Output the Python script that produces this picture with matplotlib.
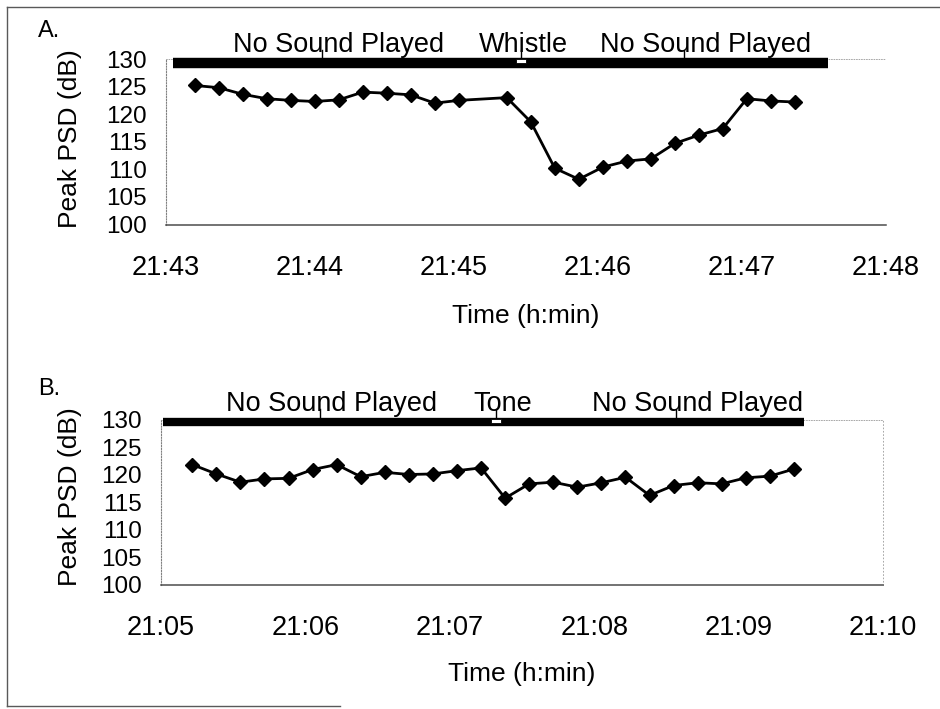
import matplotlib.pyplot as plt
from matplotlib.lines import Line2D

plt.rcParams['font.family'] = ['Liberation Sans', 'DejaVu Sans']

# panel A: peak PSD, seconds after 21:43:00
a_sec = [12, 22, 32, 42, 52, 62, 72, 82, 92, 102, 112, 122,
         142, 152, 162, 172, 182, 192, 202, 212, 222, 232, 242, 252, 262]
a_psd = [125.2, 124.8, 123.6, 122.8, 122.5, 122.3, 122.6, 124.0, 123.8, 123.5, 122.0, 122.5,
         123.0, 118.6, 110.2, 108.2, 110.4, 111.5, 111.9, 114.7, 116.2, 117.4, 122.8, 122.4, 122.2]
a_ticks = ['21:43', '21:44', '21:45', '21:46', '21:47', '21:48']

# panel B: peak PSD, seconds after 21:05:00
b_sec = [13, 23, 33, 43, 53, 63, 73, 83, 93, 103, 113, 123, 133,
         143, 153, 163, 173, 183, 193, 203, 213, 223, 233, 243, 253, 263]
b_psd = [121.8, 120.1, 118.6, 119.2, 119.3, 120.9, 121.8, 119.6, 120.4, 120.0, 120.1, 120.7, 121.2,
         115.7, 118.3, 118.6, 117.7, 118.5, 119.5, 116.2, 118.0, 118.5, 118.3, 119.4, 119.7, 121.0]
b_ticks = ['21:05', '21:06', '21:07', '21:08', '21:09', '21:10']

# playback timeline (seconds): recording span and sound event
a_span = [3, 276]
a_event = 148
b_span = [1, 267]
b_event = 139

a_notes = ['No Sound Played', 'Whistle', 'No Sound Played']
a_note_sec = [72, 149, 225]
a_point_sec = [65, 148, 216]
b_notes = ['No Sound Played', 'Tone', 'No Sound Played']
b_note_sec = [71, 142, 223]
b_point_sec = [66, 139, 214]

yticks = [100, 105, 110, 115, 120, 125, 130]

W, H = 940, 709
fig = plt.figure(figsize=(W / 100, H / 100), dpi=100)


def panel(rect, secs, psd, ticks, span, event, notes, note_sec, point_sec,
          bar_y, bar_lw, text_y, letter, letter_y, ylab_y, xlab_y, right_spine):
    ax = fig.add_axes(rect)
    mins = [s / 60 for s in secs]
    ax.plot(mins, psd, color='black', lw=2.0, marker='D', ms=7,
            mfc='black', mec='black', zorder=4)

    # stimulus bar across the top
    ax.plot([span[0] / 60, span[1] / 60], [bar_y, bar_y], color='black',
            lw=bar_lw, solid_capstyle='butt', zorder=3, clip_on=False)
    box = [(-1, -0.5), (1, -0.5), (1, 0.5), (-1, 0.5), (-1, -0.5)]
    ax.plot([event / 60], [bar_y + 0.3], marker=box, ms=7, mfc='white',
            mec='black', mew=0.6, zorder=5, clip_on=False)
    for s in point_sec:
        ax.plot([s / 60, s / 60], [bar_y, text_y + 0.3], color='black',
                lw=1.0, zorder=3, clip_on=False)
    for t, s in zip(notes, note_sec):
        ax.text(s / 60, text_y, t, ha='center', va='baseline', fontsize=19.5)

    ax.set_xlim(0, 5)
    ax.set_ylim(100, 130)
    ax.set_xticks(range(6))
    ax.set_xticklabels(ticks)
    ax.set_yticks(yticks)
    ax.tick_params(axis='x', length=0, pad=22, labelsize=19.5)
    ax.tick_params(axis='y', length=0, pad=14, labelsize=17.5)

    ax.spines['bottom'].set(color='0.3', lw=1.1, linestyle=(0, (2, 1)))
    ax.spines['left'].set(color='0.5', lw=0.8, linestyle=(0, (1, 1.5)))
    ax.spines['top'].set(color='0.6', lw=0.6, linestyle=(0, (1, 2)))
    if right_spine:
        ax.spines['right'].set(color='0.6', lw=0.6, linestyle=(0, (1, 3)))
    else:
        ax.spines['right'].set_visible(False)

    fig.text(38 / W, 1 - letter_y / H, letter, fontsize=17, va='baseline')
    fig.text(70 / W, 1 - ylab_y / H, 'Peak PSD (dB)', rotation=90,
             ha='center', va='center', fontsize=19)
    fig.text(rect[0] + rect[2] / 2, 1 - xlab_y / H, 'Time (h:min)',
             ha='center', va='center', fontsize=19)
    return ax


panel([166 / W, 1 - 224.5 / H, 720 / W, 165.5 / H], a_sec, a_psd, a_ticks,
      a_span, a_event, a_notes, a_note_sec, a_point_sec,
      bar_y=129.3, bar_lw=7.5, text_y=131.3, letter='A.', letter_y=37,
      ylab_y=139, xlab_y=316, right_spine=False)

panel([161 / W, 1 - 584.5 / H, 722 / W, 165 / H], b_sec, b_psd, b_ticks,
      b_span, b_event, b_notes, b_note_sec, b_point_sec,
      bar_y=129.5, bar_lw=6, text_y=131.6, letter='B.', letter_y=395,
      ylab_y=497, xlab_y=674, right_spine=True)

# scanned page border
for xs, ys in [([7, 7], [7, 706]), ([7, 940], [7, 7]), ([7, 340], [706, 706])]:
    fig.add_artist(Line2D([x / W for x in xs], [1 - y / H for y in ys],
                          color='0.35', lw=1.0))

plt.savefig('out.png', dpi=100)
